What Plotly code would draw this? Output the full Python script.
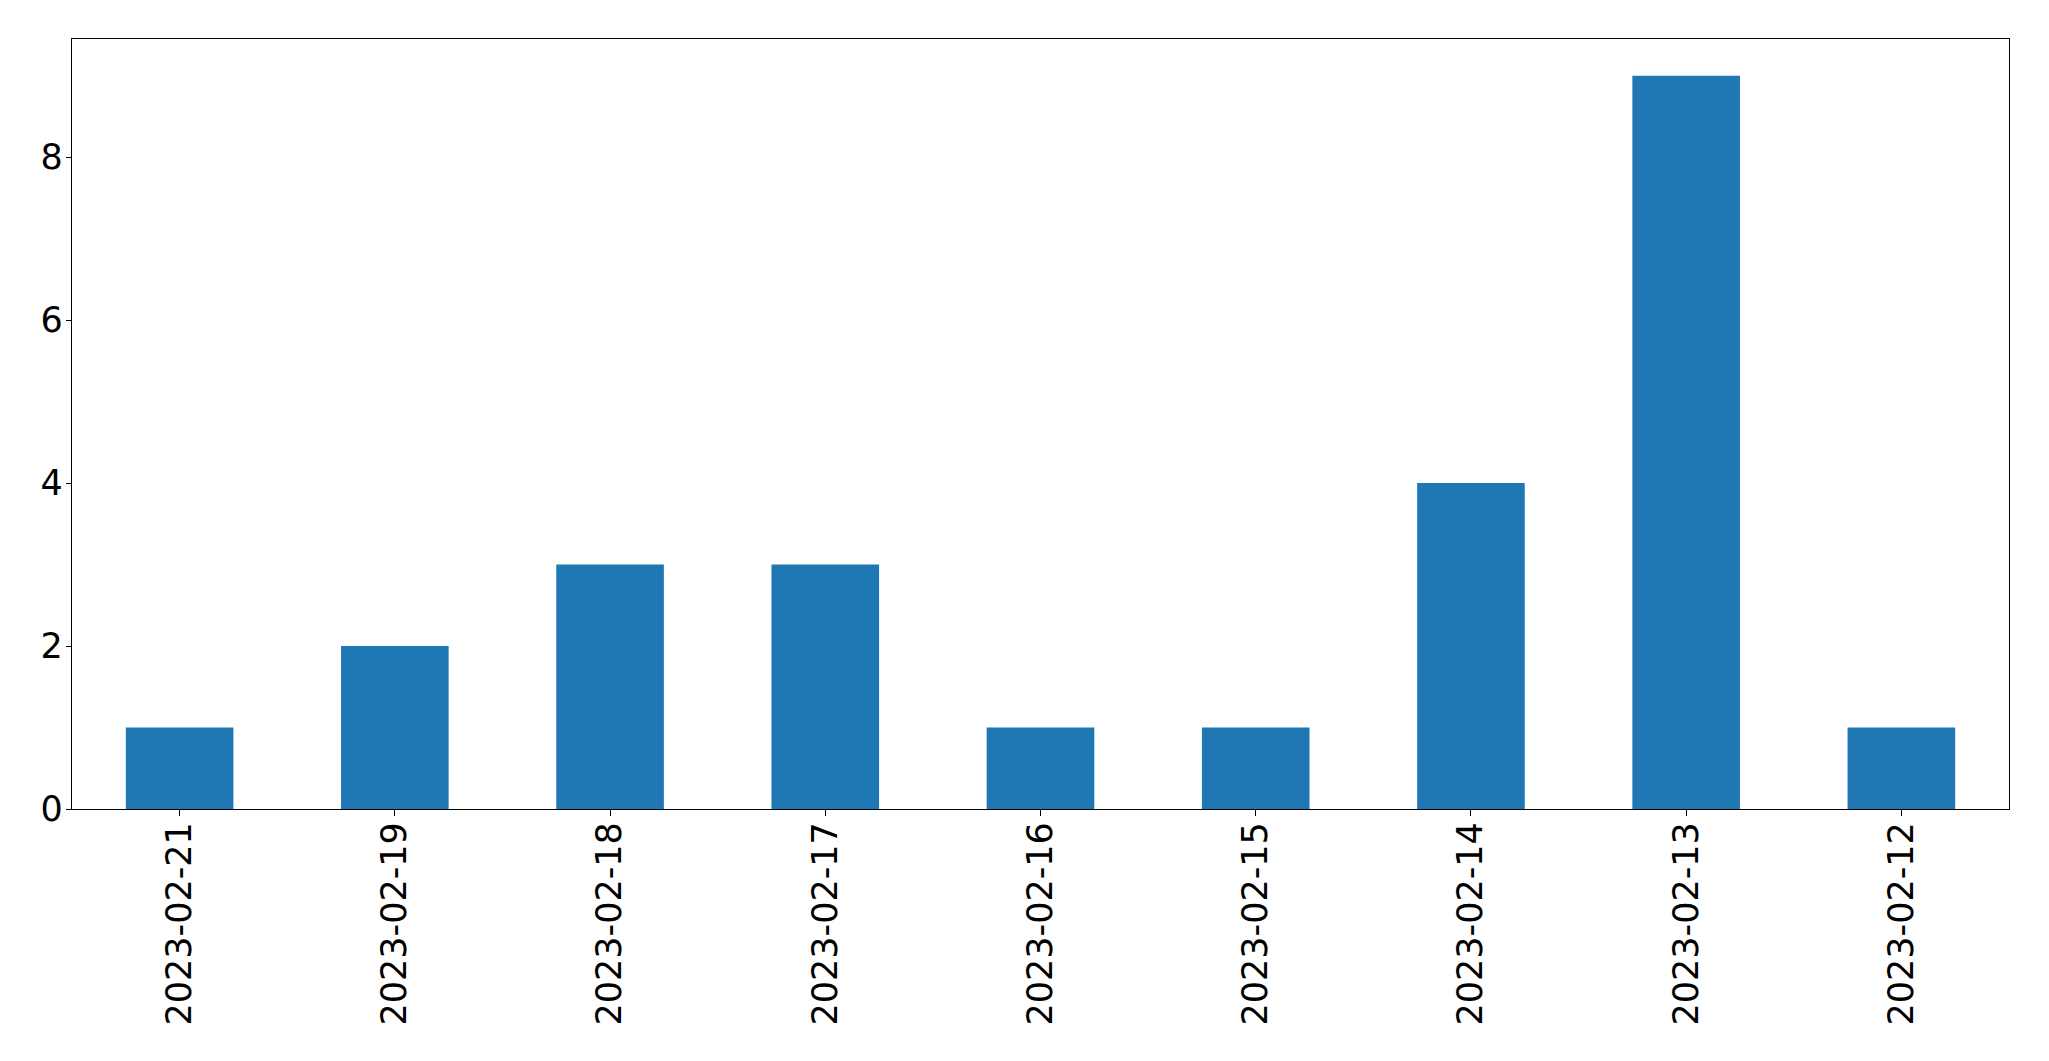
import plotly.graph_objects as go

dates = ["2023-02-21", "2023-02-19", "2023-02-18", "2023-02-17", "2023-02-16",
         "2023-02-15", "2023-02-14", "2023-02-13", "2023-02-12"]
counts = [1, 2, 3, 3, 1, 1, 4, 9, 1]

fig = go.Figure(go.Bar(x=dates, y=counts, marker=dict(color="#1f77b4", line=dict(width=0)), width=0.5))

fig.update_layout(
    width=2041, height=1053,
    margin=dict(l=64, r=40, t=31, b=252, autoexpand=False),
    paper_bgcolor="white", plot_bgcolor="white",
    font=dict(family="DejaVu Sans", size=35, color="black"),
    showlegend=False,
)
fig.update_xaxes(
    type="category", range=[-0.5, 8.5], tickangle=-90,
    showline=True, linecolor="black", linewidth=1.3, mirror=True,
    ticks="outside", ticklen=6, tickwidth=1.3, tickcolor="black",
    showgrid=False, zeroline=False, ticklabelstandoff=-8,
)
fig.update_yaxes(
    range=[0, 9.45], tickvals=[0, 2, 4, 6, 8],
    showline=True, linecolor="black", linewidth=1.3, mirror=True,
    ticks="outside", ticklen=5, tickwidth=1.3, tickcolor="black",
    showgrid=False, zeroline=False, ticklabelstandoff=-4,
)

fig.write_html("out.html")
